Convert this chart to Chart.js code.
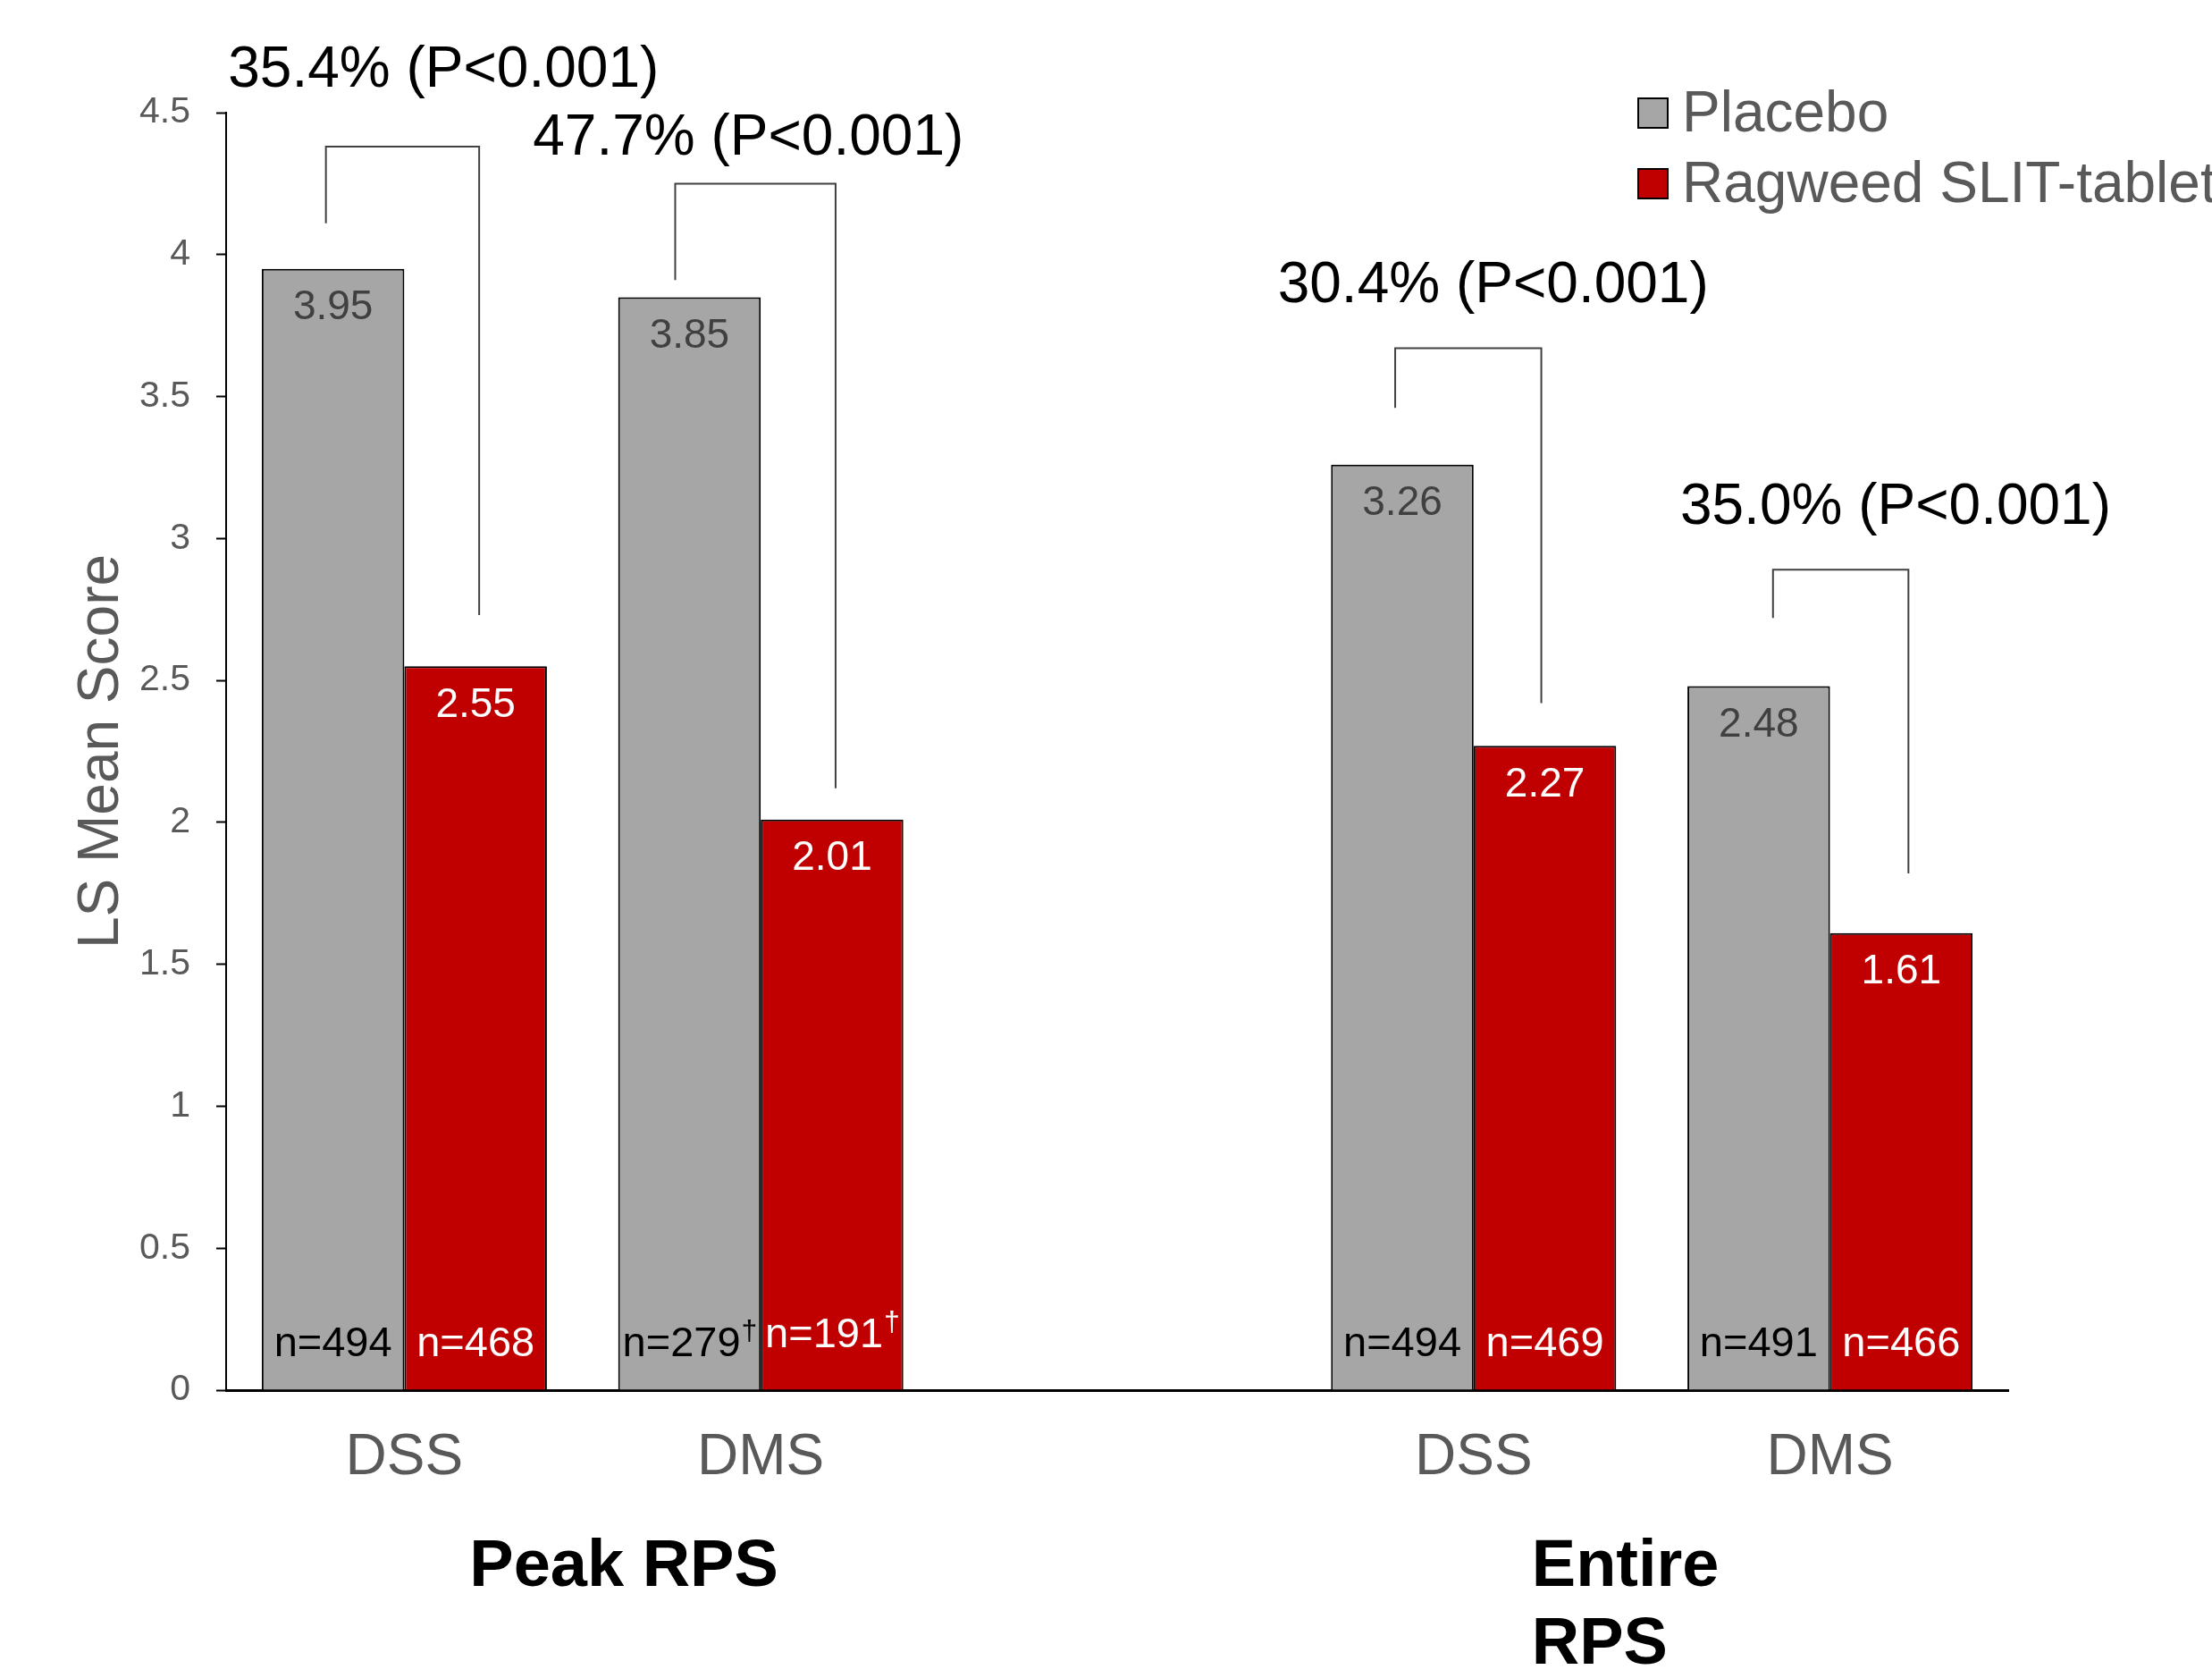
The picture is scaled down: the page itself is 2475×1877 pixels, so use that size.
<!DOCTYPE html>
<html>
<head>
<meta charset="utf-8">
<script src="https://cdn.jsdelivr.net/npm/chart.js@4.4.0/dist/chart.umd.min.js"></script>
<style>
  body { margin: 0; background: #fff; }
  #wrap { width: 2475px; height: 1877px; }
</style>
</head>
<body>
<div id="wrap"><canvas id="myChart" width="2475" height="1877"></canvas></div>
<script>
// data
var categories = ["DSS", "DMS", "", "DSS", "DMS"];
var placebo = [3.95, 3.85, null, 3.26, 2.48];
var ragweed = [2.55, 2.01, null, 2.27, 1.61];
var nPlacebo = [494, 279, null, 494, 491];
var nRagweed = [468, 191, null, 469, 466];
var nDagger = [false, true, false, false, false];
var yTicks = [0, 0.5, 1, 1.5, 2, 2.5, 3, 3.5, 4, 4.5];
var pctText = ["35.4% (P<0.001)", "47.7% (P<0.001)", "30.4% (P<0.001)", "35.0% (P<0.001)"];
var groups = ["Peak RPS", "Entire\nRPS"];

// bracket annotation placement (category index / y value units)
var brX1 = [-0.22, 0.76, 2.78, 3.84];
var brX2 = [0.21, 1.21, 3.19, 4.22];
var brTop = [4.38, 4.25, 3.67, 2.89];
var brLeftEnd = [4.11, 3.91, 3.46, 2.72];
var brRightEnd = [2.73, 2.12, 2.42, 1.82];
var pctX = [0.11, 0.965, 3.055, 4.184];
var pctY = [4.66, 4.42, 3.90, 3.12];

var FONT = '"Liberation Sans", Arial, sans-serif';
var GRAY = "#A6A6A6";
var RED = "#C00000";
var TXT = "#595959";

var extras = {
  id: "extras",
  afterDatasetsDraw: function (chart) {
    var ctx = chart.ctx;
    var xs = chart.scales.x, ys = chart.scales.y;
    ctx.save();
    ctx.textBaseline = "middle";
    ctx.textAlign = "center";

    // value + n labels inside bars
    [0, 1].forEach(function (d) {
      var meta = chart.getDatasetMeta(d);
      var vals = d === 0 ? placebo : ragweed;
      var ns = d === 0 ? nPlacebo : nRagweed;
      meta.data.forEach(function (bar, i) {
        if (vals[i] == null) return;
        ctx.font = "46px " + FONT;
        ctx.fillStyle = d === 0 ? "#404040" : "#ffffff";
        ctx.textAlign = "center";
        ctx.fillText(vals[i].toFixed(2), bar.x, bar.y + 44);

        ctx.fillStyle = d === 0 ? "#000000" : "#ffffff";
        var t = "n=" + ns[i];
        var ny = bar.base - 50;
        if (nDagger[i]) {
          if (d === 1) ny -= 10;
          ctx.font = "47px " + FONT;
          var w1 = ctx.measureText(t).width;
          ctx.font = "32px " + FONT;
          var w2 = ctx.measureText("\u2020").width;
          var x0 = bar.x - (w1 + w2) / 2;
          ctx.textAlign = "left";
          ctx.font = "47px " + FONT;
          ctx.fillText(t, x0, ny);
          ctx.font = "32px " + FONT;
          ctx.fillText("\u2020", x0 + w1 + 1, ny - 14);
        } else {
          ctx.font = "47px " + FONT;
          ctx.textAlign = "center";
          ctx.fillText(t, bar.x, ny);
        }
      });
    });

    // brackets
    ctx.strokeStyle = "#404040";
    ctx.lineWidth = 2;
    for (var k = 0; k < brTop.length; k++) {
      var x1 = xs.getPixelForValue(brX1[k]);
      var x2 = xs.getPixelForValue(brX2[k]);
      ctx.beginPath();
      ctx.moveTo(x1, ys.getPixelForValue(brLeftEnd[k]));
      ctx.lineTo(x1, ys.getPixelForValue(brTop[k]));
      ctx.lineTo(x2, ys.getPixelForValue(brTop[k]));
      ctx.lineTo(x2, ys.getPixelForValue(brRightEnd[k]));
      ctx.stroke();

      ctx.font = "64px " + FONT;
      ctx.fillStyle = "#000";
      ctx.textAlign = "center";
      ctx.fillText(pctText[k], xs.getPixelForValue(pctX[k]), ys.getPixelForValue(pctY[k]) + 4);
    }

    // group labels
    ctx.font = "bold 74px " + FONT;
    ctx.fillStyle = "#000";
    ctx.textAlign = "center";
    ctx.fillText(groups[0], xs.getPixelForValue(0.616), 1754);
    ctx.textAlign = "left";
    groups[1].split("\n").forEach(function (line, j) {
      ctx.fillText(line, xs.getPixelForValue(3.163), 1754 + j * 87);
    });

    // legend
    chart.data.datasets.forEach(function (ds, j) {
      var ly = 126 + j * 79;
      ctx.fillStyle = ds.backgroundColor;
      ctx.fillRect(1833, ly - 16, 33, 33);
      ctx.strokeStyle = "#000";
      ctx.lineWidth = 2;
      ctx.strokeRect(1833, ly - 16, 33, 33);
      ctx.font = "64px " + FONT;
      ctx.fillStyle = TXT;
      ctx.textAlign = "left";
      ctx.fillText(ds.label, 1882, ly + 3);
    });
    ctx.restore();
  }
};

var ctx = document.getElementById("myChart").getContext("2d");
var myChart = new Chart(ctx, {
  type: "bar",
  data: {
    labels: categories,
    datasets: [
      {
        label: "Placebo",
        data: placebo,
        backgroundColor: GRAY,
        borderColor: "#000",
        borderWidth: 2
      },
      {
        label: "Ragweed SLIT-tablet",
        data: ragweed,
        backgroundColor: RED,
        borderColor: "#000",
        borderWidth: 2
      }
    ]
  },
  options: {
    responsive: false,
    animation: false,
    layout: {
      padding: { top: 126, right: 228, left: 0, bottom: 0 }
    },
    plugins: {
      legend: { display: false },
      tooltip: { enabled: false }
    },
    datasets: {
      bar: { categoryPercentage: 0.8, barPercentage: 1.0 }
    },
    scales: {
      x: {
        grid: { display: false },
        border: { display: true, color: "#000", width: 3 },
        ticks: {
          color: TXT,
          font: { family: FONT, size: 64 },
          padding: 30,
          maxRotation: 0,
          autoSkip: false
        },
        afterFit: function (scale) { scale.height = 322; }
      },
      y: {
        min: 0,
        max: 4.5,
        afterBuildTicks: function (scale) {
          scale.ticks = yTicks.map(function (v) { return { value: v }; });
        },
        grid: {
          drawOnChartArea: false,
          drawTicks: true,
          tickLength: 11,
          color: "#000",
          tickWidth: 2
        },
        border: { display: true, color: "#000", width: 2 },
        ticks: {
          color: TXT,
          font: { family: FONT, size: 41 },
          padding: 29,
          callback: function (v) { return String(v); }
        },
        title: {
          display: true,
          text: "LS Mean Score",
          color: TXT,
          font: { family: FONT, size: 64 },
          padding: { top: 76, bottom: 0 }
        },
        afterFit: function (scale) { scale.width = 253; }
      }
    }
  },
  plugins: [extras]
});
</script>
</body>
</html>
